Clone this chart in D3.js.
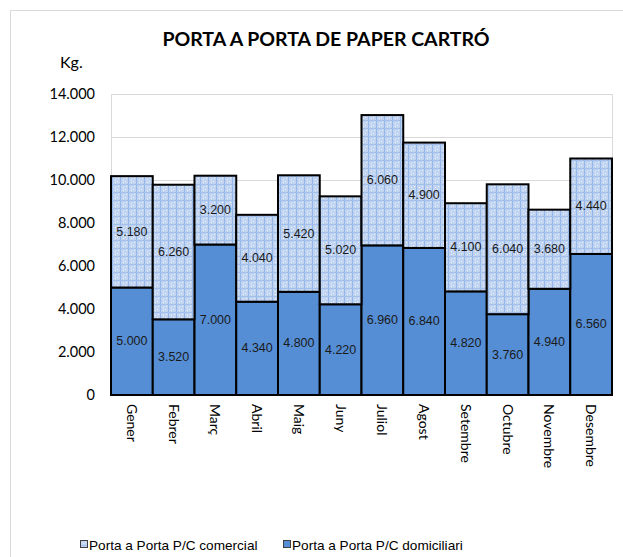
<!DOCTYPE html>
<html>
<head>
<meta charset="utf-8">
<script src="https://cdn.jsdelivr.net/npm/d3@7"></script>
<style>
  body { margin: 0; background: #fff; }
</style>
</head>
<body>
<div id="chart"></div>
<script>
var months = ["Gener", "Febrer", "Març", "Abril", "Maig", "Juny", "Juliol", "Agost", "Setembre", "Octubre", "Novembre", "Desembre"];
var domiciliari = [5000, 3520, 7000, 4340, 4800, 4220, 6960, 6840, 4820, 3760, 4940, 6560];
var comercial = [5180, 6260, 3200, 4040, 5420, 5020, 6060, 4900, 4100, 6040, 3680, 4440];
var yTicks = [0, 2000, 4000, 6000, 8000, 10000, 12000, 14000];
var seriesNames = ["Porta a Porta P/C comercial", "Porta a Porta P/C domiciliari"];

var w = 623, h = 557;
var pLeft = 111, pRight = 612, pTop = 94, pBottom = 395;

var fmt = function(d) {
  return d3.format(",")(d).replace(/,/g, ".");
};

var svg = d3.select("#chart").append("svg")
  .attr("width", w)
  .attr("height", h);

// hatched fill for the comercial part
var defs = svg.append("defs");
var pat = defs.append("pattern")
  .attr("id", "grid")
  .attr("width", 8)
  .attr("height", 8)
  .attr("patternUnits", "userSpaceOnUse");
pat.append("rect").attr("width", 8).attr("height", 8).attr("fill", "#c0d4f2");
pat.append("rect").attr("x", 0).attr("y", 0).attr("width", 1).attr("height", 8).attr("fill", "#95b6e8");
pat.append("rect").attr("x", 0).attr("y", 0).attr("width", 8).attr("height", 1).attr("fill", "#a3c0ec");
pat.append("rect").attr("x", 3).attr("y", 3).attr("width", 1).attr("height", 1).attr("fill", "#eef4fc");
pat.append("rect").attr("x", 5).attr("y", 5).attr("width", 1).attr("height", 1).attr("fill", "#eef4fc");
pat.append("rect").attr("x", 3).attr("y", 6).attr("width", 1).attr("height", 1).attr("fill", "#eef4fc");
pat.append("rect").attr("x", 6).attr("y", 2).attr("width", 1).attr("height", 1).attr("fill", "#eef4fc");

// outer chart border
svg.append("rect")
  .attr("x", 10.5).attr("y", 10.5)
  .attr("width", 640).attr("height", 600)
  .attr("fill", "none")
  .attr("stroke", "#d9d9d9");

var x = d3.scaleBand().domain(months).range([pLeft, pRight]).padding(0);
var y = d3.scaleLinear().domain([0, 14000]).range([pBottom, pTop]);

// gridlines
svg.selectAll("line.grid")
  .data(yTicks)
  .enter()
  .append("line")
  .attr("x1", pLeft).attr("x2", pRight)
  .attr("y1", function(d) { return Math.round(y(d)) + 0.5; })
  .attr("y2", function(d) { return Math.round(y(d)) + 0.5; })
  .attr("stroke", "#d9d9d9");

svg.append("rect")
  .attr("x", pLeft + 0.5).attr("y", pTop + 0.5)
  .attr("width", pRight - pLeft).attr("height", pBottom - pTop)
  .attr("fill", "none")
  .attr("stroke", "#d9d9d9");

// y axis labels
var yAxis = d3.axisLeft(y).tickValues(yTicks).tickSize(0).tickPadding(16).tickFormat(fmt);
var ya = svg.append("g").attr("transform", "translate(" + pLeft + ",0)").call(yAxis);
ya.select(".domain").remove();
ya.selectAll("text")
  .attr("font-family", "Lato, sans-serif")
  .attr("font-size", 14.5)
  .attr("fill", "#000");

var data = months.map(function(m, i) {
  return { m: m, dom: domiciliari[i], com: comercial[i] };
});

// domiciliari (bottom)
svg.selectAll("rect.dom")
  .data(data)
  .enter()
  .append("rect")
  .attr("class", "dom")
  .attr("x", function(d) { return x(d.m); })
  .attr("y", function(d) { return y(d.dom); })
  .attr("width", x.bandwidth())
  .attr("height", function(d) { return y(0) - y(d.dom); })
  .attr("fill", "#558ed5")
  .attr("stroke", "#000")
  .attr("stroke-width", 2);

// comercial (top)
svg.selectAll("rect.com")
  .data(data)
  .enter()
  .append("rect")
  .attr("class", "com")
  .attr("x", function(d) { return x(d.m); })
  .attr("y", function(d) { return y(d.dom + d.com); })
  .attr("width", x.bandwidth())
  .attr("height", function(d) { return y(d.dom) - y(d.dom + d.com); })
  .attr("fill", "url(#grid)")
  .attr("stroke", "#000")
  .attr("stroke-width", 2);

// value labels
svg.selectAll("text.vdom")
  .data(data)
  .enter()
  .append("text")
  .attr("class", "vdom")
  .text(function(d) { return fmt(d.dom); })
  .attr("x", function(d) { return x(d.m) + x.bandwidth() / 2; })
  .attr("y", function(d) { return (y(0) + y(d.dom)) / 2 + 4; })
  .attr("text-anchor", "middle")
  .attr("font-family", "Liberation Sans, Arial, sans-serif")
  .attr("font-size", 12.5)
  .attr("fill", "#1a1a1a");

svg.selectAll("text.vcom")
  .data(data)
  .enter()
  .append("text")
  .attr("class", "vcom")
  .text(function(d) { return fmt(d.com); })
  .attr("x", function(d) { return x(d.m) + x.bandwidth() / 2; })
  .attr("y", function(d) { return (y(d.dom) + y(d.dom + d.com)) / 2 + 4; })
  .attr("text-anchor", "middle")
  .attr("font-family", "Liberation Sans, Arial, sans-serif")
  .attr("font-size", 12.5)
  .attr("fill", "#1a1a1a");

// month labels, rotated
svg.selectAll("text.month")
  .data(months)
  .enter()
  .append("text")
  .attr("class", "month")
  .text(function(d) { return d; })
  .attr("transform", function(d) {
    return "translate(" + (x(d) + x.bandwidth() / 2 - 5) + "," + 404 + ") rotate(90)";
  })
  .attr("text-anchor", "start")
  .attr("font-family", "Lato, sans-serif")
  .attr("font-size", 14)
  .attr("fill", "#000");

// title and unit
svg.append("text")
  .text("PORTA A PORTA DE PAPER CARTRÓ")
  .attr("x", 326).attr("y", 46)
  .attr("text-anchor", "middle")
  .attr("font-family", "Lato, sans-serif")
  .attr("font-weight", "bold")
  .attr("font-size", 19.5)
  .attr("fill", "#000");

svg.append("text")
  .text("Kg.")
  .attr("x", 60).attr("y", 68)
  .attr("font-family", "Lato, sans-serif")
  .attr("font-size", 16)
  .attr("fill", "#000");

// legend
var legX = [80, 283];
var leg = svg.selectAll("g.leg")
  .data(seriesNames)
  .enter()
  .append("g")
  .attr("class", "leg")
  .attr("transform", function(d, i) { return "translate(" + legX[i] + ",545)"; });
leg.append("rect")
  .attr("x", 0.5).attr("y", -4.5)
  .attr("width", 7).attr("height", 7)
  .attr("fill", function(d, i) { return i == 0 ? "url(#grid)" : "#558ed5"; })
  .attr("stroke", "#404040")
  .attr("stroke-width", 1);
leg.append("text")
  .text(function(d) { return d; })
  .attr("x", 9).attr("y", 5)
  .attr("font-family", "Liberation Sans, Arial, sans-serif")
  .attr("font-size", 13.6)
  .attr("fill", "#000");
</script>
</body>
</html>
